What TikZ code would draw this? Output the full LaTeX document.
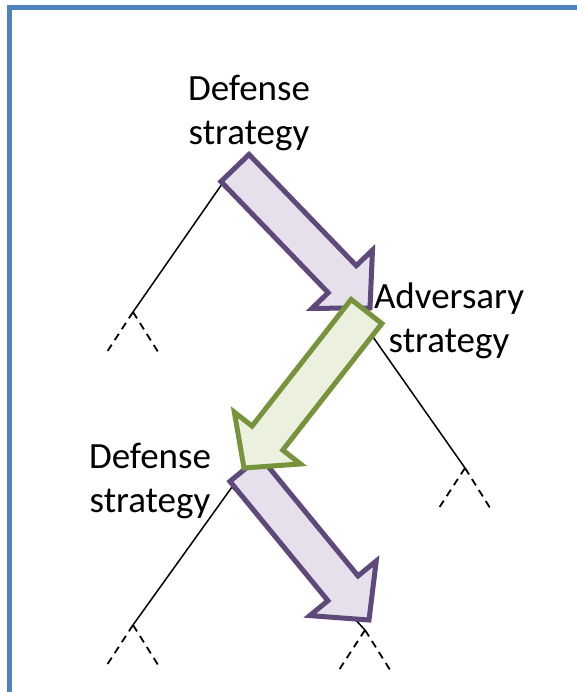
\documentclass[tikz,border=0pt]{standalone}
\usepackage{fontspec}
\setmainfont{Carlito}
\usetikzlibrary{calc}
\definecolor{bordblue}{HTML}{4F81BD}
\definecolor{purpline}{HTML}{5F497A}
\definecolor{purpfill}{HTML}{E5E0EC}
\definecolor{grnline}{HTML}{77933C}
\definecolor{grnfill}{HTML}{EBF1DE}
\newcommand\blkarrow[6]{% style, tail, tip, half shaft, half head, head length
  \coordinate (ba-base) at ($(#3)!#6!(#2)$);
  \draw[#1] ($(#2)!#4!90:(#3)$) -- ($(ba-base)!#4!90:(#3)$) -- ($(ba-base)!#5!90:(#3)$)
    -- (#3) -- ($(ba-base)!#5!-90:(#3)$) -- ($(ba-base)!#4!-90:(#3)$)
    -- ($(#2)!#4!-90:(#3)$) -- cycle;
}
\begin{document}
\begin{tikzpicture}[x=1pt,y=-1pt,
  lbl/.style={font=\fontsize{37}{44}\selectfont, align=center, inner sep=0pt},
  edge/.style={line width=1.5pt, black},
  sub/.style={line width=1.8pt, black, dash pattern=on 7.5pt off 5.5pt},
  purparrow/.style={draw=purpline, fill=purpfill, line width=5pt, line join=miter},
  grnarrow/.style={draw=grnline, fill=grnfill, line width=5pt, line join=miter}]
\useasboundingbox (0,0) rectangle (577,692);
\fill[white] (0,0) rectangle (577,692);
\draw[bordblue, line width=5pt] (9.5,720) -- (9.5,8) -- (600,8);

% tree nodes
\coordinate (root) at (222,184);
\coordinate (l1) at (133,312);
\coordinate (adv) at (373,337);
\coordinate (r2) at (465,468);
\coordinate (mid) at (232,487);
\coordinate (l3) at (133,625);
\coordinate (r3) at (365,630);

% edges
\draw[edge] (root) -- (l1);
\draw[edge] (adv) -- (r2);
\draw[edge] (mid) -- (l3);
\draw[edge] (mid) -- (r3);

% subtrees
\foreach \n in {l1,r2,l3,r3}{
  \draw[sub] (\n) -- ++(-28,43);
  \draw[sub] (\n) -- ++(27,43);
}

% arrows
\coordinate (a1t) at (235,168);
\coordinate (a1p) at (370,308);
\coordinate (a3t) at (245,469);
\coordinate (a3p) at (369,620);
\coordinate (a2t) at (366.5,311.5);
\coordinate (a2p) at (244,468);
\blkarrow{purparrow}{a1t}{a1p}{19.5pt}{42pt}{40pt}
\blkarrow{purparrow}{a3t}{a3p}{19.5pt}{43pt}{41pt}
\blkarrow{grnarrow}{a2t}{a2p}{19.5pt}{42pt}{38pt}

% labels
\node[lbl] (t1) at (249,113) {Defense\\strategy};
\node[lbl] (t2) at (449,321) {Adversary\\strategy};
\node[lbl] (t3) at (150,481) {Defense\\strategy};
\end{tikzpicture}
\end{document}
